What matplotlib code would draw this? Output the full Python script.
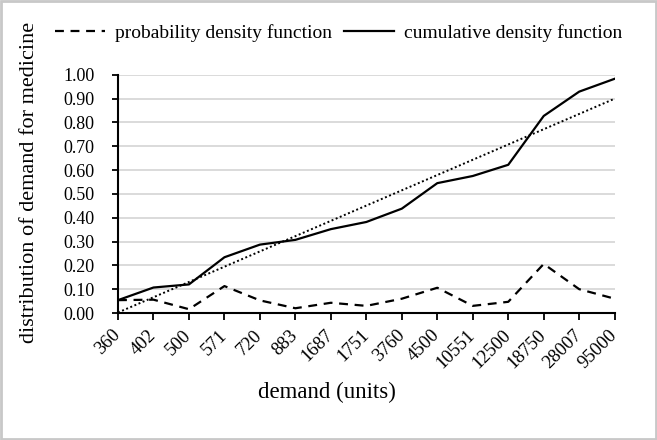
import numpy as np
import matplotlib.pyplot as plt
from matplotlib.patches import Rectangle

plt.rcParams['font.family'] = ['Liberation Serif', 'DejaVu Serif']

# demand categories and read-off values
demand = ['360', '402', '500', '571', '720', '883', '1687', '1751', '3760',
          '4500', '10551', '12500', '18750', '28007', '95000']
pdf = [0.054, 0.056, 0.016, 0.113, 0.053, 0.020, 0.043, 0.030, 0.060,
       0.106, 0.030, 0.047, 0.206, 0.100, 0.060]
cdf = [0.054, 0.107, 0.120, 0.234, 0.287, 0.307, 0.352, 0.382, 0.438,
       0.545, 0.575, 0.622, 0.827, 0.929, 0.983]
yticks = [0.0, 0.1, 0.2, 0.3, 0.4, 0.5, 0.6, 0.7, 0.8, 0.9, 1.0]

fig = plt.figure(figsize=(6.57, 4.4), dpi=100)
ax = fig.add_axes([0.1796, 0.2886, 0.756, 0.5416])

x = np.arange(len(demand))
l1, = ax.plot(x, pdf, color='black', lw=1.6, linestyle=(0, (4, 3)),
              label='probability density function')
l2, = ax.plot(x, cdf, color='black', lw=1.6,
              label='cumulative density function')
# linear trendline of the cdf (like excel)
k, b = np.polyfit(x, cdf, 1)
ax.plot(x, k * x + b, color='black', lw=1.4, linestyle=(0, (1, 1.3)))

ax.set_xlim(0, len(demand) - 1)
ax.set_ylim(0, 1.0)
ax.set_yticks(yticks)
ax.set_yticklabels(['%.2f' % v for v in yticks], fontsize=13)
ax.set_xticks(x)
ax.set_xticklabels(demand, rotation=45, ha='right', va='center',
                   rotation_mode='anchor', fontsize=13.5)
ax.tick_params(axis='y', length=4, width=1.3, direction='out', pad=13)
ax.tick_params(axis='x', length=5, width=1.3, direction='out', pad=9)
ax.grid(axis='y', color='#d4d4d4', lw=1.2)
ax.set_axisbelow(True)
for s in ['top', 'right']:
    ax.spines[s].set_visible(False)
ax.spines['left'].set_linewidth(1.5)
ax.spines['bottom'].set_linewidth(1.5)

ax.set_xlabel('demand (units)', fontsize=16.5)
ax.xaxis.set_label_coords(0.42, -0.29)
ax.set_ylabel('distribution of demand for medicine', fontsize=16)
ax.yaxis.set_label_coords(-0.16, 0.55)

fig.legend(handles=[l1, l2], loc='center', bbox_to_anchor=(0.515, 0.925),
           ncol=2, frameon=False, fontsize=14, handlelength=2.6,
           columnspacing=0.6, handletextpad=0.5)

fig.patches.append(Rectangle((0.002, 0.002), 0.996, 0.996, transform=fig.transFigure,
                             fill=False, edgecolor='#c8c8c8', lw=2))

plt.savefig('out.png', dpi=100)
